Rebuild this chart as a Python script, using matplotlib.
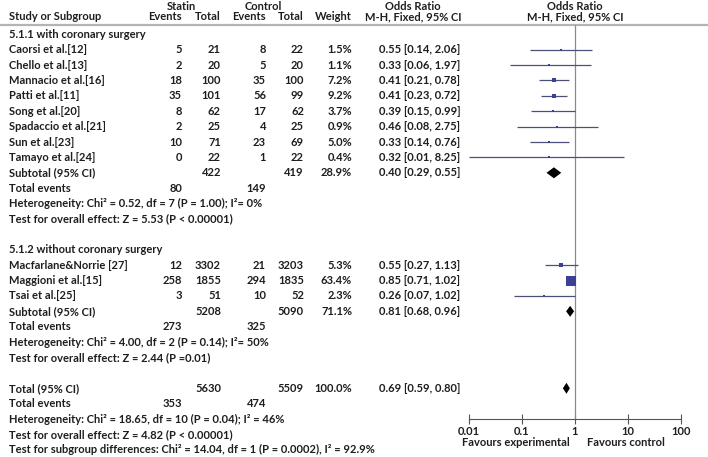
import matplotlib
matplotlib.use("Agg")
import matplotlib.pyplot as plt
from matplotlib.patches import Polygon
from matplotlib.ticker import FixedLocator, FixedFormatter, NullLocator

plt.rcParams['font.family'] = ['Lato', 'DejaVu Sans']

# 5.1.1 with coronary surgery
studies1 = ["Caorsi et al.[12]", "Chello et al.[13]", "Mannacio et al.[16]", "Patti et al.[11]",
            "Song et al.[20]", "Spadaccio et al.[21]", "Sun et al.[23]", "Tamayo et al.[24]"]
st_ev1 = [5, 2, 18, 35, 8, 2, 10, 0]
st_n1 = [21, 20, 100, 101, 62, 25, 71, 22]
ct_ev1 = [8, 5, 35, 56, 17, 4, 23, 1]
ct_n1 = [22, 20, 100, 99, 62, 25, 69, 22]
weight1 = [1.5, 1.1, 7.2, 9.2, 3.7, 0.9, 5.0, 0.4]
or1 = [0.55, 0.33, 0.41, 0.41, 0.39, 0.46, 0.33, 0.32]
lo1 = [0.14, 0.06, 0.21, 0.23, 0.15, 0.08, 0.14, 0.01]
hi1 = [2.06, 1.97, 0.78, 0.72, 0.99, 2.75, 0.76, 8.25]

# 5.1.2 without coronary surgery
studies2 = ["Macfarlane&Norrie [27]", "Maggioni et al.[15]", "Tsai et al.[25]"]
st_ev2 = [12, 258, 3]
st_n2 = [3302, 1855, 51]
ct_ev2 = [21, 294, 10]
ct_n2 = [3203, 1835, 52]
weight2 = [5.3, 63.4, 2.3]
or2 = [0.55, 0.85, 0.26]
lo2 = [0.27, 0.71, 0.07]
hi2 = [1.13, 1.02, 1.02]

# pooled rows: subtotal 1, subtotal 2, overall total
pool_label = ["Subtotal (95% CI)", "Subtotal (95% CI)", "Total (95% CI)"]
pool_n_st = [422, 5208, 5630]
pool_n_ct = [419, 5090, 5509]
pool_w = [28.9, 71.1, 100.0]
pool_or = [0.40, 0.81, 0.69]
pool_lo = [0.29, 0.68, 0.59]
pool_hi = [0.55, 0.96, 0.80]
pool_ev_st = [80, 273, 353]
pool_ev_ct = [149, 325, 474]

het_text = ["Heterogeneity: Chi\u00b2 = 0.52, df = 7 (P = 1.00); I\u00b2= 0%",
            "Heterogeneity: Chi\u00b2 = 4.00, df = 2 (P = 0.14); I\u00b2= 50%",
            "Heterogeneity: Chi\u00b2 = 18.65, df = 10 (P = 0.04); I\u00b2 = 46%"]
test_text = ["Test for overall effect: Z = 5.53 (P < 0.00001)",
             "Test for overall effect: Z = 2.44 (P =0.01)",
             "Test for overall effect: Z = 4.82 (P < 0.00001)"]
subgroup_text = "Test for subgroup differences: Chi\u00b2 = 14.04, df = 1 (P = 0.0002), I\u00b2 = 92.9%"

tick_vals = [0.01, 0.1, 1, 10, 100]
tick_labels = ["0.01", "0.1", "1", "10", "100"]

W, H = 708, 457
fig = plt.figure(figsize=(W / 100, H / 100), dpi=100)
fig.patch.set_facecolor('white')

ax = fig.add_axes([0, 0, 1, 1])
ax.set_xlim(0, W)
ax.set_ylim(H, 0)
ax.axis('off')

txt = '#1e1e1e'
fs = 8.0
kw = dict(fontsize=fs, fontweight='bold', color=txt, va='center')


def ry(i):
    return 34.3 + 15.39 * i


# column right edges
x_name, x_sev, x_sn, x_cev, x_cn, x_w, x_or = 9, 182, 221, 266, 304, 352, 379

# header
ax.text(181, 6, "Statin", ha='center', **kw)
ax.text(263, 6, "Control", ha='center', **kw)
ax.text(413, 6, "Odds Ratio", ha='center', **kw)
ax.text(575, 6, "Odds Ratio", ha='center', **kw)
ax.text(x_name, 16.5, "Study or Subgroup", ha='left', **kw)
ax.text(x_sev, 16.5, "Events", ha='right', **kw)
ax.text(x_sn, 16.5, "Total", ha='right', **kw)
ax.text(x_cev, 16.5, "Events", ha='right', **kw)
ax.text(x_cn, 16.5, "Total", ha='right', **kw)
ax.text(x_w, 16.5, "Weight", ha='right', **kw)
ax.text(413, 16.5, "M-H, Fixed, 95% CI", ha='center', **kw)
ax.text(575, 16.5, "M-H, Fixed, 95% CI", ha='center', **kw)
ax.hlines(25, 0, W, color='#b4b4b4', lw=1.6)

# forest axes
fa = fig.add_axes([469 / W, 0, 212 / W, 1])
fa.set_xscale('log')
fa.set_xlim(0.01, 100)
fa.set_ylim(H, 0)
fa.patch.set_visible(False)
for s in ['top', 'left', 'right']:
    fa.spines[s].set_visible(False)
fa.spines['bottom'].set_position(('data', 419))
fa.spines['bottom'].set_color('#555555')
fa.spines['bottom'].set_linewidth(0.8)
fa.yaxis.set_major_locator(NullLocator())
fa.xaxis.set_major_locator(FixedLocator(tick_vals))
fa.xaxis.set_major_formatter(FixedFormatter(tick_labels))
fa.xaxis.set_minor_locator(NullLocator())
fa.tick_params(axis='x', direction='inout', length=7, width=0.8, color='#555555',
               labelsize=fs, labelcolor=txt, pad=1.5)
for t in fa.get_xticklabels():
    t.set_fontweight('bold')
fa.vlines(1, 25, 419, color='#8a8a8a', lw=0.9)

sq_col = '#3c3f96'
ci_col = '#4d5078'


def study_rows(names, sev, sn, cev, cn, w, o, lo, hi, start):
    for k in range(len(names)):
        y = ry(start + k)
        ax.text(x_name, y, names[k], ha='left', **kw)
        ax.text(x_sev, y, str(sev[k]), ha='right', **kw)
        ax.text(x_sn, y, str(sn[k]), ha='right', **kw)
        ax.text(x_cev, y, str(cev[k]), ha='right', **kw)
        ax.text(x_cn, y, str(cn[k]), ha='right', **kw)
        ax.text(x_w, y, "%.1f%%" % w[k], ha='right', **kw)
        ax.text(x_or, y, "%.2f [%.2f, %.2f]" % (o[k], lo[k], hi[k]), ha='left', **kw)
        fa.hlines(y, lo[k], hi[k], color=ci_col, lw=0.9)
        side = max(10.5 * (w[k] / 63.4) ** 0.5, 2.2)
        fa.plot(o[k], y, marker='s', ms=side / 1.389, color=sq_col, mew=0)


def pooled(j, row):
    y = ry(row)
    ax.text(x_name, y, pool_label[j], ha='left', **kw)
    ax.text(x_sn, y, str(pool_n_st[j]), ha='right', **kw)
    ax.text(x_cn, y, str(pool_n_ct[j]), ha='right', **kw)
    ax.text(x_w, y, "%.1f%%" % pool_w[j], ha='right', **kw)
    ax.text(x_or, y, "%.2f [%.2f, %.2f]" % (pool_or[j], pool_lo[j], pool_hi[j]), ha='left', **kw)
    fa.add_patch(Polygon([(pool_lo[j], y), (pool_or[j], y - 5.5), (pool_hi[j], y),
                          (pool_or[j], y + 5.5)], closed=True, color='black', lw=0))
    y = ry(row + 1)
    ax.text(x_name, y, "Total events", ha='left', **kw)
    ax.text(x_sev, y, str(pool_ev_st[j]), ha='right', **kw)
    ax.text(x_cev, y, str(pool_ev_ct[j]), ha='right', **kw)
    ax.text(x_name, ry(row + 2), het_text[j], ha='left', **kw)
    ax.text(x_name, ry(row + 3), test_text[j], ha='left', **kw)


ax.text(x_name, ry(0), "5.1.1 with coronary surgery", ha='left', **kw)
study_rows(studies1, st_ev1, st_n1, ct_ev1, ct_n1, weight1, or1, lo1, hi1, 1)
pooled(0, 9)

ax.text(x_name, ry(14), "5.1.2 without coronary surgery", ha='left', **kw)
study_rows(studies2, st_ev2, st_n2, ct_ev2, ct_n2, weight2, or2, lo2, hi2, 15)
pooled(1, 18)

pooled(2, 23)
ax.text(x_name, ry(27), subgroup_text, ha='left', **kw)

ax.text(570, 443, "Favours experimental", ha='right', **kw)
ax.text(587, 443, "Favours control", ha='left', **kw)

fig.savefig("out.png", dpi=100)
